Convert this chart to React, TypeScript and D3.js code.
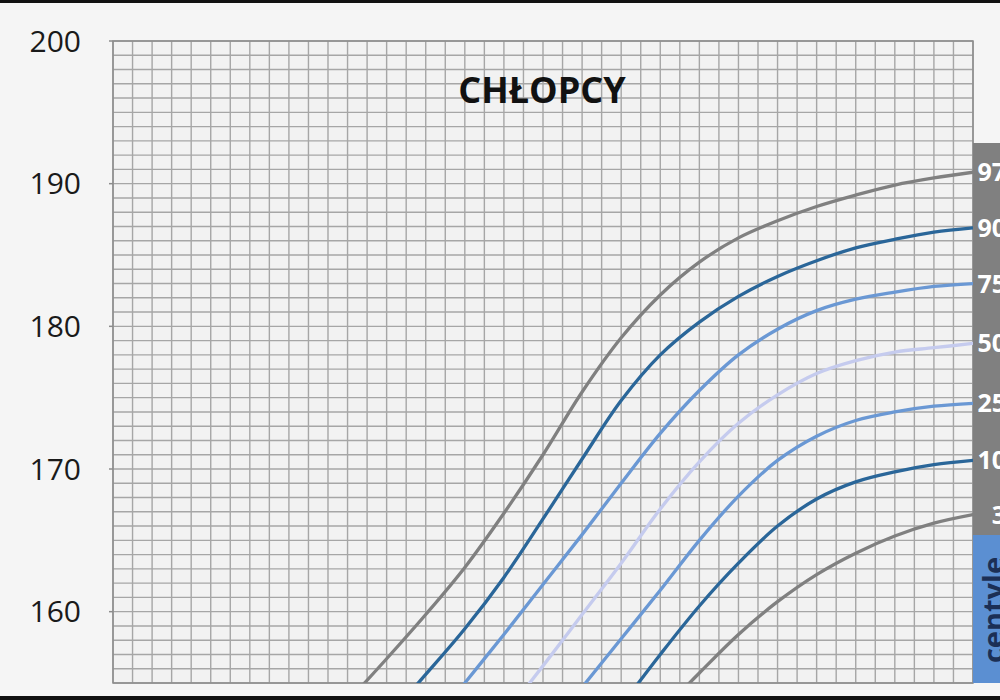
import { useEffect, useRef } from "react";
import * as d3 from "d3";

// age in years (x axis runs 7..18, grid every quarter year)
const ages = [10, 10.5, 11, 11.5, 12, 12.5, 13, 13.5, 14, 14.5, 15, 15.5, 16, 16.5, 17, 17.5, 18];

// height in cm per centile, null where the curve is below the visible range
const c97 = [153.7, 156.7, 159.8, 163.1, 166.9, 171.0, 175.4, 179.2, 182.2, 184.5, 186.2, 187.4, 188.4, 189.2, 189.9, 190.4, 190.8];
const c90 = [null, 152.5, 155.6, 158.8, 162.4, 166.5, 170.7, 174.8, 178.0, 180.3, 182.1, 183.5, 184.6, 185.5, 186.1, 186.6, 186.9];
const c75 = [null, null, 151.6, 155.0, 158.4, 161.9, 165.4, 169.0, 172.5, 175.5, 178.0, 179.8, 181.1, 181.9, 182.4, 182.8, 183.0];
const c50 = [null, null, null, null, 152.7, 156.2, 159.8, 163.4, 167.2, 170.5, 173.2, 175.2, 176.7, 177.6, 178.2, 178.5, 178.8];
const c25 = [null, null, null, null, null, null, 154.7, 158.1, 161.5, 165.0, 168.1, 170.6, 172.3, 173.4, 174.0, 174.4, 174.6];
const c10 = [null, null, null, null, null, null, null, 153.4, 157.0, 160.4, 163.4, 166.0, 167.9, 169.1, 169.8, 170.3, 170.6];
const c3 = [null, null, null, null, null, null, null, null, 152.9, 155.7, 158.4, 160.7, 162.6, 164.1, 165.3, 166.2, 166.8];

const centileNames = ["97", "90", "75", "50", "25", "10", "3"];
const centileValues = [c97, c90, c75, c50, c25, c10, c3];
const centileColors = ["#808080", "#2a6699", "#6a98d4", "#c5cbee", "#6a98d4", "#2a6699", "#808080"];

const yTicks = [160, 170, 180, 190, 200];

export default function App() {
  const svgRef = useRef<SVGSVGElement | null>(null);

  useEffect(() => {
    const svg = d3.select(svgRef.current);
    svg.selectAll("*").remove();

    const width = 1000;
    const height = 700;
    const left = 113, right = 973, top = 41, bottom = 683;

    const x = d3.scaleLinear().domain([7, 18]).range([left, right]);
    const y = d3.scaleLinear().domain([155, 200]).range([bottom, top]);

    svg.attr("width", width).attr("height", height);

    // page background + black frame bits
    svg.append("rect").attr("width", width).attr("height", height).attr("fill", "#f5f5f5");
    svg.append("rect").attr("width", width).attr("height", 3).attr("fill", "#111");
    svg.append("rect").attr("y", 696).attr("width", width).attr("height", 4).attr("fill", "#111");

    // plot area
    svg.append("rect")
      .attr("x", left).attr("y", top)
      .attr("width", right - left).attr("height", bottom - top)
      .attr("fill", "#f2f2f2");

    svg.append("clipPath").attr("id", "plotclip")
      .append("rect")
      .attr("x", left).attr("y", top)
      .attr("width", right - left).attr("height", bottom - top);

    // grid: quarter years, 1 cm
    const grid = svg.append("g").attr("stroke", "#a6a6a6").attr("stroke-width", 1.4);
    grid.selectAll("line.v")
      .data(d3.range(0, 45).map(i => 7 + i / 4))
      .join("line")
      .attr("x1", d => x(d)).attr("x2", d => x(d))
      .attr("y1", top).attr("y2", bottom);
    grid.selectAll("line.h")
      .data(d3.range(155, 201))
      .join("line")
      .attr("x1", left).attr("x2", right)
      .attr("y1", d => y(d)).attr("y2", d => y(d));

    svg.append("rect")
      .attr("x", left).attr("y", top)
      .attr("width", right - left).attr("height", bottom - top)
      .attr("fill", "none").attr("stroke", "#8c8c8c").attr("stroke-width", 1.5);

    // small tick marks + y axis labels
    svg.append("g")
      .attr("stroke", "#8c8c8c").attr("stroke-width", 1.5)
      .selectAll("line")
      .data(yTicks)
      .join("line")
      .attr("x1", left - 4).attr("x2", left)
      .attr("y1", d => y(d)).attr("y2", d => y(d));

    svg.append("g")
      .selectAll("text")
      .data(yTicks)
      .join("text")
      .attr("x", 81)
      .attr("y", d => y(d))
      .attr("dy", "0.36em")
      .attr("text-anchor", "end")
      .attr("font-family", "'Open Sans', sans-serif")
      .attr("font-size", 30)
      .attr("fill", "#1a1a1a")
      .text(d => d);

    // title
    svg.append("text")
      .attr("x", 542).attr("y", 90)
      .attr("dy", "0.36em")
      .attr("text-anchor", "middle")
      .attr("font-family", "'Open Sans', sans-serif")
      .attr("font-weight", "bold")
      .attr("font-size", 36)
      .attr("fill", "#111")
      .text("CHŁOPCY");

    // centile curves
    const line = d3.line<[number, number | null]>()
      .defined(d => d[1] !== null)
      .x(d => x(d[0]))
      .y(d => y(d[1] as number))
      .curve(d3.curveCatmullRom.alpha(0.5));

    const curves = svg.append("g").attr("clip-path", "url(#plotclip)");
    centileValues.forEach((vals, i) => {
      const pts = ages.map((a, j) => [a, vals[j]] as [number, number | null]);
      curves.append("path")
        .attr("d", line(pts))
        .attr("fill", "none")
        .attr("stroke", centileColors[i])
        .attr("stroke-width", 3.3)
        .attr("stroke-linecap", "round");
    });

    // label panel on the right
    svg.append("rect")
      .attr("x", right).attr("y", 143)
      .attr("width", width - right).attr("height", 535 - 143)
      .attr("fill", "#808080");
    svg.append("rect")
      .attr("x", right).attr("y", 535)
      .attr("width", width - right).attr("height", bottom - 535)
      .attr("fill", "#5b8fd2");

    // centile labels, right aligned just past the page edge
    svg.append("g")
      .selectAll("text")
      .data(centileNames)
      .join("text")
      .attr("x", right + 33)
      .attr("y", (d, i) => y(centileValues[i][ages.length - 1] as number))
      .attr("dy", "0.36em")
      .attr("text-anchor", "end")
      .attr("font-family", "'Open Sans', sans-serif")
      .attr("font-weight", "bold")
      .attr("font-size", 25)
      .attr("fill", "#ffffff")
      .text(d => d);

    svg.append("text")
      .attr("transform", `translate(${right + 31},610) rotate(-90)`)
      .attr("text-anchor", "middle")
      .attr("font-family", "'Open Sans', sans-serif")
      .attr("font-weight", "bold")
      .attr("font-size", 29)
      .attr("fill", "#1c2f55")
      .text("centyle");
  }, []);

  return (
    <div style={{ position: "absolute", left: 0, top: 0 }}>
      <svg ref={svgRef} style={{ display: "block" }} />
    </div>
  );
}
